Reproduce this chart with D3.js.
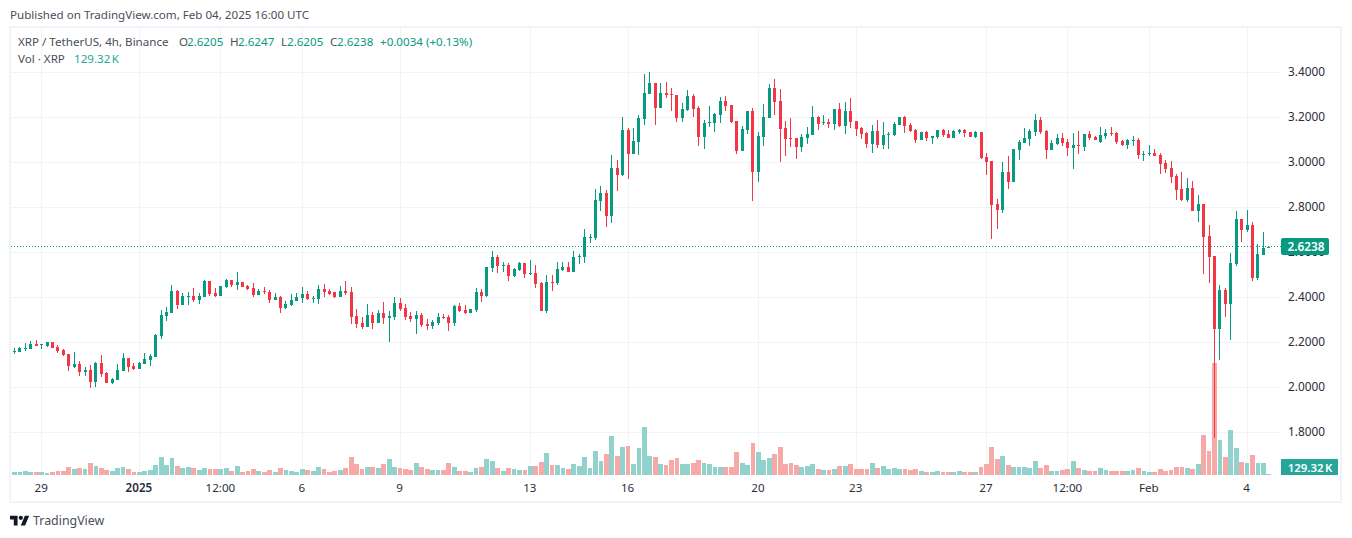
<!DOCTYPE html>
<html><head><meta charset="utf-8">
<script src="https://cdn.jsdelivr.net/npm/d3@7"></script>
<style>
html,body{margin:0;padding:0;background:#fff;overflow:hidden}
svg{display:block}
text{font-family:"Noto Sans","Open Sans",sans-serif}
</style></head><body>
<script>
const highs=[2.175,2.179,2.197,2.206,2.210,2.193,2.201,2.201,2.188,2.170,
2.148,2.157,2.117,2.090,2.099,2.113,2.144,2.068,2.041,2.104,
2.153,2.130,2.108,2.113,2.153,2.148,2.237,2.344,2.357,2.455,
2.433,2.419,2.424,2.441,2.419,2.477,2.473,2.441,2.450,2.481,
2.477,2.513,2.468,2.455,2.464,2.437,2.446,2.433,2.419,2.406,
2.384,2.415,2.419,2.446,2.428,2.406,2.455,2.459,2.437,2.424,
2.450,2.473,2.446,2.348,2.313,2.370,2.335,2.344,2.379,2.339,
2.401,2.397,2.370,2.335,2.339,2.330,2.304,2.299,2.330,2.326,
2.321,2.366,2.375,2.366,2.348,2.441,2.437,2.535,2.606,2.588,
2.557,2.553,2.530,2.557,2.553,2.566,2.544,2.468,2.499,2.499,
2.557,2.557,2.557,2.606,2.593,2.704,2.681,2.881,2.895,2.877,
3.033,3.010,3.201,3.153,3.153,3.210,3.393,3.401,3.353,3.353,
3.357,3.330,3.299,3.264,3.321,3.304,3.250,3.188,3.250,3.219,
3.290,3.295,3.255,3.184,3.161,3.228,3.241,3.135,3.259,3.348,
3.370,3.326,3.184,3.197,3.108,3.126,3.157,3.250,3.206,3.210,
3.193,3.237,3.264,3.268,3.286,3.184,3.157,3.135,3.166,3.188,
3.179,3.135,3.179,3.201,3.206,3.175,3.148,3.135,3.139,3.117,
3.144,3.148,3.144,3.144,3.148,3.148,3.135,3.139,3.135,3.041,
3.006,2.837,3.001,3.028,3.059,3.099,3.153,3.148,3.215,3.201,
3.144,3.099,3.126,3.130,3.104,3.130,3.139,3.126,3.139,3.117,
3.157,3.148,3.157,3.135,3.099,3.104,3.117,3.108,3.050,3.077,
3.059,3.041,3.010,3.006,2.948,2.957,2.930,2.917,2.855,2.815,
2.721,2.584,2.455,2.441,2.597,2.784,2.748,2.788,2.735,2.637,
2.690,2.6247];
const lows=[2.148,2.157,2.161,2.170,2.184,2.170,2.179,2.175,2.153,2.139,
2.073,2.086,2.050,2.050,1.997,2.001,2.046,2.019,2.015,2.033,
2.073,2.068,2.077,2.081,2.104,2.095,2.135,2.215,2.295,2.330,
2.348,2.366,2.366,2.379,2.370,2.401,2.406,2.401,2.406,2.441,
2.446,2.433,2.446,2.433,2.401,2.410,2.415,2.375,2.388,2.330,
2.348,2.361,2.384,2.375,2.388,2.375,2.370,2.401,2.410,2.397,
2.401,2.410,2.281,2.264,2.259,2.268,2.259,2.286,2.281,2.201,
2.299,2.339,2.299,2.290,2.237,2.268,2.255,2.259,2.277,2.304,
2.250,2.273,2.335,2.326,2.330,2.335,2.379,2.401,2.513,2.508,
2.513,2.473,2.490,2.517,2.486,2.499,2.441,2.339,2.330,2.428,
2.455,2.517,2.513,2.513,2.548,2.553,2.641,2.655,2.784,2.713,
2.730,2.873,2.939,2.926,3.037,3.033,3.166,3.304,3.166,3.241,
3.286,3.228,3.179,3.179,3.228,3.201,3.073,3.059,3.157,3.135,
3.175,3.228,3.175,3.037,3.050,3.126,2.828,2.913,3.073,3.197,
3.210,3.001,3.028,3.068,3.015,3.046,3.081,3.121,3.144,3.166,
3.153,3.144,3.157,3.126,3.153,3.117,3.104,3.064,3.041,3.064,
3.059,3.059,3.117,3.166,3.130,3.135,3.086,3.099,3.095,3.081,
3.104,3.113,3.108,3.108,3.126,3.113,3.113,3.108,3.015,2.944,
2.659,2.704,2.775,2.881,2.913,3.010,3.086,3.073,3.117,3.126,
3.015,3.055,3.077,3.073,3.028,2.970,3.037,3.050,3.099,3.099,
3.086,3.104,3.117,3.081,3.073,3.059,3.073,3.015,3.006,3.028,
3.028,2.948,2.953,2.908,2.833,2.828,2.824,2.784,2.735,2.504,
2.464,1.773,2.121,2.313,2.210,2.539,2.646,2.690,2.473,2.477,
2.588,2.6205];
const opens=[2.157,2.157,2.170,2.170,2.193,2.188,2.184,2.201,2.179,2.166,
2.148,2.090,2.104,2.068,2.077,2.024,2.108,2.064,2.019,2.033,
2.073,2.130,2.095,2.081,2.104,2.121,2.135,2.228,2.317,2.330,
2.428,2.366,2.401,2.406,2.388,2.401,2.473,2.419,2.406,2.446,
2.477,2.455,2.468,2.450,2.441,2.410,2.428,2.424,2.388,2.401,
2.353,2.366,2.384,2.397,2.415,2.393,2.393,2.437,2.428,2.424,
2.401,2.428,2.424,2.317,2.286,2.268,2.321,2.286,2.330,2.308,
2.313,2.375,2.353,2.317,2.304,2.321,2.281,2.273,2.286,2.313,
2.313,2.286,2.361,2.344,2.330,2.344,2.424,2.406,2.530,2.579,
2.539,2.544,2.495,2.521,2.553,2.504,2.508,2.464,2.339,2.468,
2.464,2.521,2.535,2.513,2.579,2.579,2.664,2.664,2.828,2.864,
2.761,2.975,2.944,3.144,3.037,3.090,3.193,3.304,3.353,3.241,
3.308,3.304,3.299,3.197,3.233,3.295,3.241,3.113,3.175,3.175,
3.210,3.273,3.255,3.184,3.050,3.144,3.228,2.957,3.113,3.197,
3.330,3.273,3.153,3.108,3.108,3.068,3.108,3.121,3.201,3.175,
3.179,3.170,3.237,3.161,3.228,3.184,3.153,3.130,3.081,3.139,
3.077,3.121,3.121,3.166,3.201,3.166,3.144,3.099,3.135,3.108,
3.113,3.144,3.126,3.108,3.135,3.144,3.135,3.113,3.135,3.024,
3.006,2.815,2.788,2.957,2.913,3.055,3.086,3.104,3.135,3.188,
3.139,3.055,3.081,3.108,3.090,3.064,3.077,3.068,3.126,3.113,
3.090,3.117,3.130,3.130,3.095,3.077,3.095,3.099,3.033,3.037,
3.041,3.033,2.997,2.975,2.939,2.881,2.833,2.886,2.784,2.815,
2.673,2.584,2.259,2.433,2.370,2.548,2.748,2.699,2.721,2.486,
2.588,2.6205];
const closes=[2.163,2.175,2.175,2.193,2.184,2.193,2.201,2.175,2.161,2.144,
2.095,2.104,2.068,2.077,2.024,2.108,2.059,2.019,2.036,2.077,
2.130,2.090,2.081,2.108,2.126,2.139,2.233,2.321,2.335,2.428,
2.366,2.406,2.406,2.388,2.406,2.473,2.415,2.406,2.450,2.477,
2.455,2.468,2.446,2.437,2.410,2.428,2.424,2.388,2.401,2.353,
2.370,2.388,2.401,2.415,2.393,2.397,2.437,2.424,2.415,2.401,
2.428,2.419,2.313,2.281,2.268,2.321,2.286,2.330,2.308,2.317,
2.375,2.348,2.313,2.304,2.321,2.277,2.273,2.290,2.313,2.308,
2.286,2.361,2.339,2.330,2.348,2.424,2.406,2.535,2.579,2.539,
2.544,2.495,2.526,2.553,2.504,2.508,2.459,2.339,2.468,2.464,
2.526,2.535,2.513,2.579,2.584,2.668,2.668,2.833,2.864,2.761,
2.975,2.944,3.144,3.037,3.095,3.197,3.308,3.353,3.241,3.308,
3.299,3.299,3.197,3.237,3.295,3.237,3.113,3.175,3.179,3.215,
3.273,3.250,3.179,3.050,3.148,3.228,2.957,3.117,3.201,3.330,
3.268,3.148,3.104,3.104,3.068,3.113,3.126,3.201,3.170,3.179,
3.170,3.237,3.161,3.228,3.179,3.148,3.126,3.081,3.139,3.077,
3.121,3.126,3.170,3.201,3.161,3.139,3.099,3.135,3.108,3.117,
3.144,3.121,3.108,3.139,3.144,3.130,3.113,3.135,3.019,3.001,
2.810,2.788,2.957,2.913,3.059,3.090,3.108,3.139,3.188,3.135,
3.055,3.086,3.108,3.086,3.064,3.077,3.073,3.126,3.108,3.099,
3.121,3.130,3.126,3.090,3.077,3.099,3.099,3.033,3.037,3.041,
3.028,2.993,2.970,2.935,2.877,2.833,2.886,2.784,2.815,2.668,
2.579,2.259,2.433,2.370,2.553,2.748,2.699,2.721,2.486,2.593,
2.6205,2.6238];
const volumesK=[360,360,480,360,360,360,240,360,480,480,
960,720,840,720,1440,1080,840,600,480,840,
960,720,360,360,480,600,1200,2160,1200,2040,
1080,840,960,840,600,840,720,720,720,840,
480,1080,360,480,720,480,360,600,360,840,
600,480,360,720,600,480,960,720,360,480,
600,840,2160,1320,720,960,960,840,1320,1920,
960,840,720,600,1440,960,720,600,600,600,
1440,960,480,480,360,840,960,1920,1680,840,
480,840,720,600,600,1080,1080,1560,2640,1200,
1200,840,720,1320,1080,2160,840,2880,1680,2520,
4680,2280,3360,3480,1320,3240,5760,2280,2160,1320,
1200,1800,2040,1320,1320,1440,1800,1440,1320,960,
960,960,960,2760,1440,1200,3840,2760,1800,2040,
2520,3360,1320,1440,1200,960,1080,1320,720,600,
600,720,1080,1080,1320,720,720,720,1440,840,
1080,720,840,720,720,600,720,480,360,360,
480,360,360,360,480,360,360,360,960,1320,
3360,1920,2280,1200,960,960,960,840,1680,840,
1200,480,480,600,720,1680,840,600,480,480,
840,600,480,480,480,480,600,840,480,360,
360,720,480,600,960,960,840,720,1320,4800,
2880,13440,4200,2160,5400,3240,1560,1440,2400,1440,
1440,129.32];
const priceTicks=[3.4,3.2,3.0,2.8,2.6,2.4,2.2,2.0,1.8];
const timeTickIndex=[5,23,38,53,71,95,113,137,155,179,194,209,227];
const timeTickLabels=["29","2025","12:00","6","9","13","16","20","23","27","12:00","Feb","4"];
const lastPrice=2.6238, lastVolumeLabel="129.32 K";

const UP="#089981",DOWN="#f23645",VUP="#92d2cc",VDOWN="#f7a9a7",GRID="#f2f3f5",BORDER="#f0f3fa",TXT="#2a2e39",MUTED="#4a4e59";
const W=1352,H=538;
const svg=d3.select("body").append("svg").attr("width",W).attr("height",H);

const x=d3.scaleLinear().domain([0,231]).range([14.5,1268.8]);
const y=d3.scaleLinear().domain([3.4,1.8]).range([72.3,432.3]);
const yVol=d3.scaleLinear().domain([0,13440]).range([475,363]);
const isUp=i=>closes[i]>=opens[i];
const idx=d3.range(closes.length);

// frame
svg.append("rect").attr("x",10).attr("y",27).attr("width",1331).attr("height",475)
  .attr("fill","none").attr("stroke",BORDER).attr("stroke-width",2);

// grid, via axes
const gridH=svg.append("g").attr("transform","translate(11,0)")
  .call(d3.axisRight(y).tickValues(priceTicks).tickSize(1269).tickFormat(""));
const gridV=svg.append("g").attr("transform","translate(0,477)")
  .call(d3.axisTop(x).tickValues(timeTickIndex).tickSize(449).tickFormat(""));
[gridH,gridV].forEach(g=>{g.select(".domain").remove();g.selectAll("line").attr("stroke",GRID).attr("shape-rendering","crispEdges");});
gridV.selectAll("g.tick").attr("transform",d=>`translate(${Math.floor(x(d))+0.5},0)`);
gridH.selectAll("g.tick").attr("transform",d=>`translate(0,${Math.floor(y(d))+0.5})`);

// volume
const vg=svg.append("g").attr("shape-rendering","crispEdges");
vg.selectAll("rect").data(idx).join("rect")
  .attr("x",i=>Math.round(x(i)-2.4)).attr("width",i=>Math.round(x(i)+2.4)-Math.round(x(i)-2.4))
  .attr("y",i=>yVol(volumesK[i])).attr("height",i=>475-yVol(volumesK[i]))
  .attr("fill",i=>isUp(i)?VUP:VDOWN);

// candles
const cg=svg.append("g").attr("shape-rendering","crispEdges");
cg.selectAll("rect.w").data(idx).join("rect").attr("class","w")
  .attr("x",i=>Math.floor(x(i))).attr("width",1)
  .attr("y",i=>Math.round(y(highs[i]))).attr("height",i=>Math.max(1,Math.round(y(lows[i]))-Math.round(y(highs[i]))))
  .attr("fill",i=>isUp(i)?UP:DOWN);
cg.selectAll("rect.b").data(idx).join("rect").attr("class","b")
  .attr("x",i=>Math.floor(x(i))-1).attr("width",3)
  .attr("y",i=>Math.round(y(Math.max(opens[i],closes[i]))))
  .attr("height",i=>Math.max(1,Math.round(y(Math.min(opens[i],closes[i])))-Math.round(y(Math.max(opens[i],closes[i])))))
  .attr("fill",i=>isUp(i)?UP:DOWN);

// last price line
svg.append("line").attr("x1",11).attr("x2",1281).attr("y1",Math.floor(y(lastPrice))+0.5).attr("y2",Math.floor(y(lastPrice))+0.5)
  .attr("stroke",UP).attr("stroke-width",1).attr("stroke-dasharray","1 2").attr("shape-rendering","crispEdges");

// axes labels
const ya=svg.append("g").attr("transform","translate(1288,-0.5)")
  .call(d3.axisRight(y).tickValues(priceTicks).tickSize(0).tickPadding(0).tickFormat(d3.format(".4f")));
ya.select(".domain").remove();
ya.selectAll("text").attr("font-size",11.8).attr("fill",TXT).attr("font-family",'"Noto Sans"').attr("dy","0.35em");
const xa=svg.append("g").attr("transform","translate(-1,484)")
  .call(d3.axisBottom(x).tickValues(timeTickIndex).tickSize(0).tickPadding(0).tickFormat((d,i)=>timeTickLabels[i]));
xa.select(".domain").remove();
xa.selectAll("text").attr("font-size",11.6).attr("fill",TXT).attr("font-family",'"Noto Sans"')
  .attr("font-weight",(d,i)=>timeTickLabels[i]==="2025"?600:400).attr("y",0).attr("dy","0.71em");

// tags
svg.append("rect").attr("x",1281).attr("y",238).attr("width",48).attr("height",17).attr("rx",2).attr("fill",UP);
svg.append("text").attr("x",1306).attr("y",251).attr("text-anchor","middle").attr("font-size",11.8).attr("font-weight",600).attr("fill","#fff").text(d3.format(".4f")(lastPrice));
svg.append("rect").attr("x",1281).attr("y",459).attr("width",57).attr("height",16).attr("fill","#26a69a");
svg.append("text").attr("x",1310).attr("y",471.5).attr("text-anchor","middle").attr("font-size",11.4).attr("font-weight",600).attr("word-spacing",-1.5).attr("fill","#fff").text(lastVolumeLabel);

// header & legend
const t=(xx,yy,s,c,fs)=>svg.append("text").attr("x",xx).attr("y",yy).attr("fill",c).attr("font-size",fs||11.6).text(s);
t(10,19,"Published on TradingView.com, Feb 04, 2025 16:00 UTC",MUTED);
t(18,46,"XRP / TetherUS, 4h, Binance",MUTED);
[[179,"O",187,"2.6205"],[230,"H",238,"2.6247"],[281,"L",287,"2.6205"],[330,"C",337,"2.6238"]].forEach(a=>{
  t(a[0],46,a[1],MUTED); t(a[2],46,a[3],UP);
});
t(380,46,"+0.0034 (+0.13%)",UP);
t(18,63,"Vol · XRP",MUTED);
t(74,63,lastVolumeLabel,"#26a69a").attr("word-spacing",-1.5);

// logo
const logo=svg.append("g").attr("transform","translate(10,513.5) scale(0.54)").attr("fill","#131722");
logo.append("path").attr("d","M14 22H7V11H0V4h14v18zM28 22h-8l7.5-18h8L28 22z");
logo.append("circle").attr("cx",20).attr("cy",8).attr("r",4);
t(33,525,"TradingView",MUTED,12.4);
</script>
</body></html>
